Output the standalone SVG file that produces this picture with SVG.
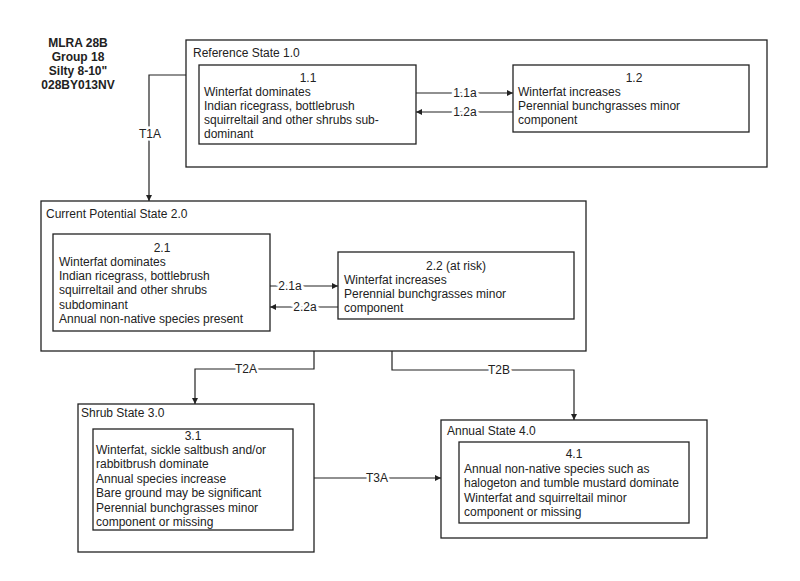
<svg xmlns="http://www.w3.org/2000/svg" width="800" height="581" viewBox="0 0 800 581">
<style>
text{font-family:"Liberation Sans",Arial,sans-serif;font-size:12px;fill:#222}
.hdr{font-weight:bold;font-size:12px;text-anchor:middle}
.box{fill:#fff;stroke:#222;stroke-width:1.3}
.c{text-anchor:middle}
.lbl{text-anchor:middle;stroke:#fff;stroke-width:5;paint-order:stroke}
.ln{fill:none;stroke:#222;stroke-width:1.2}
</style>
<defs>
<marker id="ah" viewBox="0 0 10 10" refX="10" refY="5" markerWidth="7" markerHeight="6" markerUnits="userSpaceOnUse" orient="auto">
<path d="M0,0 L10,5 L0,10 z" fill="#222"/>
</marker>
</defs>
<rect width="800" height="581" fill="#fff"/>
<g id="header">
<text class="hdr" x="78" y="47">MLRA 28B</text>
<text class="hdr" x="78" y="61">Group 18</text>
<text class="hdr" x="78" y="75">Silty 8-10"</text>
<text class="hdr" x="78" y="89">028BY013NV</text>
</g>
<g id="state1">
<rect class="box" x="186" y="40" width="581" height="127"/>
<text x="193" y="57">Reference State 1.0</text>
</g>
<g id="p11">
<rect class="box" x="199" y="65" width="217" height="79"/>
<text class="c" x="308" y="82">1.1</text>
<text x="204" y="96">Winterfat dominates</text>
<text x="204" y="110">Indian ricegrass, bottlebrush</text>
<text x="204" y="124">squirreltail and other shrubs sub-</text>
<text x="204" y="138">dominant</text>
</g>
<g id="p12">
<rect class="box" x="513" y="65" width="236" height="67"/>
<text class="c" x="634" y="82">1.2</text>
<text x="518" y="96">Winterfat increases</text>
<text x="518" y="110">Perennial bunchgrasses minor</text>
<text x="518" y="124">component</text>
</g>
<g id="state2">
<rect class="box" x="41" y="201" width="545" height="150"/>
<text x="46" y="218">Current Potential State 2.0</text>
</g>
<g id="p21">
<rect class="box" x="53" y="234" width="217" height="97"/>
<text class="c" x="162" y="252">2.1</text>
<text x="59" y="266">Winterfat dominates</text>
<text x="59" y="280">Indian ricegrass, bottlebrush</text>
<text x="59" y="294">squirreltail and other shrubs</text>
<text x="59" y="309">subdominant</text>
<text x="59" y="323">Annual non-native species present</text>
</g>
<g id="p22">
<rect class="box" x="338" y="252" width="236" height="67"/>
<text class="c" x="456" y="270">2.2 (at risk)</text>
<text x="344" y="284">Winterfat increases</text>
<text x="344" y="298">Perennial bunchgrasses minor</text>
<text x="344" y="312">component</text>
</g>
<g id="state3">
<rect class="box" x="78" y="404" width="236" height="148"/>
<text x="81" y="417">Shrub State 3.0</text>
</g>
<g id="p31">
<rect class="box" x="93" y="429" width="200" height="101"/>
<text class="c" x="193" y="440">3.1</text>
<text x="96" y="454">Winterfat, sickle saltbush and/or</text>
<text x="96" y="468">rabbitbrush dominate</text>
<text x="96" y="483">Annual species increase</text>
<text x="96" y="497">Bare ground may be significant</text>
<text x="96" y="512">Perennial bunchgrasses minor</text>
<text x="96" y="526">component or missing</text>
</g>
<g id="state4">
<rect class="box" x="441" y="420" width="266" height="118"/>
<text x="447" y="435">Annual State 4.0</text>
</g>
<g id="p41">
<rect class="box" x="459" y="442" width="230" height="81"/>
<text class="c" x="574" y="458">4.1</text>
<text x="464" y="473">Annual non-native species such as</text>
<text x="464" y="487">halogeton and tumble mustard dominate</text>
<text x="464" y="502">Winterfat and squirreltail minor</text>
<text x="464" y="516">component or missing</text>
</g>
<g id="connectors">
<path class="ln" d="M416,93 H513" marker-end="url(#ah)"/>
<text class="lbl" x="465" y="97">1.1a</text>
<path class="ln" d="M513,112 H416" marker-end="url(#ah)"/>
<text class="lbl" x="465" y="116">1.2a</text>
<path class="ln" d="M186,75 H149 V201" marker-end="url(#ah)"/>
<text class="lbl" x="150" y="138">T1A</text>
<path class="ln" d="M270,286 H338" marker-end="url(#ah)"/>
<text class="lbl" x="290" y="290">2.1a</text>
<path class="ln" d="M338,307 H270" marker-end="url(#ah)"/>
<text class="lbl" x="305" y="311">2.2a</text>
<path class="ln" d="M314,351 V369 H195 V404" marker-end="url(#ah)"/>
<text class="lbl" x="246" y="373">T2A</text>
<path class="ln" d="M392,351 V370 H574 V420" marker-end="url(#ah)"/>
<text class="lbl" x="499" y="374">T2B</text>
<path class="ln" d="M314,478 H441" marker-end="url(#ah)"/>
<text class="lbl" x="377" y="482">T3A</text>
</g>
</svg>
